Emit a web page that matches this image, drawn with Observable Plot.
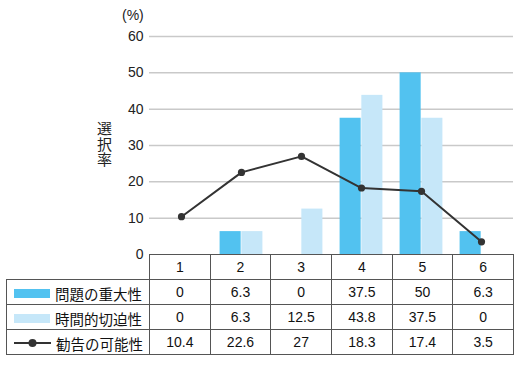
<!DOCTYPE html>
<html>
<head>
<meta charset="utf-8">
<script src="https://cdn.jsdelivr.net/npm/d3@7"></script>
<script src="https://cdn.jsdelivr.net/npm/@observablehq/plot@0.6"></script>
<style>
  html, body { margin: 0; padding: 0; background: #fff; }
  #wrap { position: relative; width: 520px; height: 367px; overflow: hidden; font-family: "Liberation Sans", Arial, sans-serif; }
  #chart { position: absolute; left: 0; top: 0; }
  #pct { position: absolute; left: 122px; top: 7px; font-size: 14px; color: #222; }
  #ylab { position: absolute; left: 97px; top: 121px; writing-mode: vertical-rl; font-family: "Noto Sans CJK JP", sans-serif; font-size: 15px; letter-spacing: 0.5px; color: #222; line-height: 1; }
  #tbl { position: absolute; left: 6px; top: 254px; border-collapse: collapse; table-layout: fixed; width: 507px; }
  #tbl td { border: 1px solid #555; height: 24px; padding: 0; text-align: center; font-size: 14px; color: #111; font-family: "Liberation Sans", Arial, sans-serif; background: #fff; }
  #tbl td.corner { border: none; background: transparent; }
  #tbl td.lab { text-align: left; font-family: "Noto Sans CJK JP", sans-serif; font-size: 14.5px; white-space: nowrap; }
  .sw { display: inline-block; vertical-align: middle; margin-left: 7px; margin-right: 5px; }
  .lt { vertical-align: middle; }
</style>
</head>
<body>
<div id="wrap">
  <div id="chart"></div>
  <div id="pct">(%)</div>
  <div id="ylab">選択率</div>
  <table id="tbl"></table>
</div>
<script>
const categories = ["1", "2", "3", "4", "5", "6"];
const seriesNames = ["問題の重大性", "時間的切迫性", "勧告の可能性"];
const severity = [0, 6.3, 0, 37.5, 50, 6.3];
const urgency = [0, 6.3, 12.5, 43.8, 37.5, 0];
const possibility = [10.4, 22.6, 27, 18.3, 17.4, 3.5];
const yTicks = [0, 10, 20, 30, 40, 50, 60];

const colors = ["#52c2f0", "#c6e7f9", "#333333"];

const rows = categories.map((c, i) => ({cat: c, v1: severity[i], v2: urgency[i], v3: possibility[i]}));

const chart = Plot.plot({
  width: 520,
  height: 268,
  marginLeft: 149,
  marginRight: 7,
  marginTop: 36,
  marginBottom: 14,
  style: {fontSize: "14px", fontFamily: "'Liberation Sans', Arial, sans-serif", color: "#222", background: "transparent"},
  x: {type: "band", domain: categories, paddingInner: 0, paddingOuter: 0, axis: null},
  y: {domain: [0, 60], ticks: yTicks, tickSize: 0, tickPadding: 6, label: null},
  marks: [
    Plot.ruleY(yTicks.filter(d => d > 0), {stroke: "#c9c9c9", strokeWidth: 1.5}),
    Plot.barY(rows, {x: "cat", y: "v1", fill: colors[0], insetLeft: 8.6, insetRight: 30.33}),
    Plot.barY(rows, {x: "cat", y: "v2", fill: colors[1], insetLeft: 30.33, insetRight: 8.6}),
    Plot.line(rows, {x: "cat", y: "v3", stroke: colors[2], strokeWidth: 2}),
    Plot.dot(rows, {x: "cat", y: "v3", r: 3.6, fill: colors[2], stroke: "none"})
  ]
});
document.getElementById("chart").appendChild(chart);

// data table
const tbl = document.getElementById("tbl");
const colgroup = document.createElement("colgroup");
const c0 = document.createElement("col"); c0.style.width = "143px"; colgroup.appendChild(c0);
categories.forEach(() => { const c = document.createElement("col"); c.style.width = (364 / categories.length) + "px"; colgroup.appendChild(c); });
tbl.appendChild(colgroup);

const head = document.createElement("tr");
const corner = document.createElement("td"); corner.className = "corner"; head.appendChild(corner);
categories.forEach(c => { const td = document.createElement("td"); td.textContent = c; head.appendChild(td); });
tbl.appendChild(head);

const seriesVals = [severity, urgency, possibility];
seriesNames.forEach((name, si) => {
  const tr = document.createElement("tr");
  const lab = document.createElement("td"); lab.className = "lab";
  let sw;
  if (si < 2) {
    sw = `<span class="sw" style="width:36px;height:9px;background:${colors[si]}"></span>`;
  } else {
    sw = `<svg class="sw" width="37" height="10" viewBox="0 0 37 10"><line x1="0" y1="5" x2="37" y2="5" stroke="${colors[2]}" stroke-width="2"/><circle cx="18.5" cy="5" r="4" fill="${colors[2]}"/></svg>`;
  }
  lab.innerHTML = sw + `<span class="lt">${name}</span>`;
  tr.appendChild(lab);
  seriesVals[si].forEach(v => { const td = document.createElement("td"); td.textContent = String(v); tr.appendChild(td); });
  tbl.appendChild(tr);
});
</script>
</body>
</html>
